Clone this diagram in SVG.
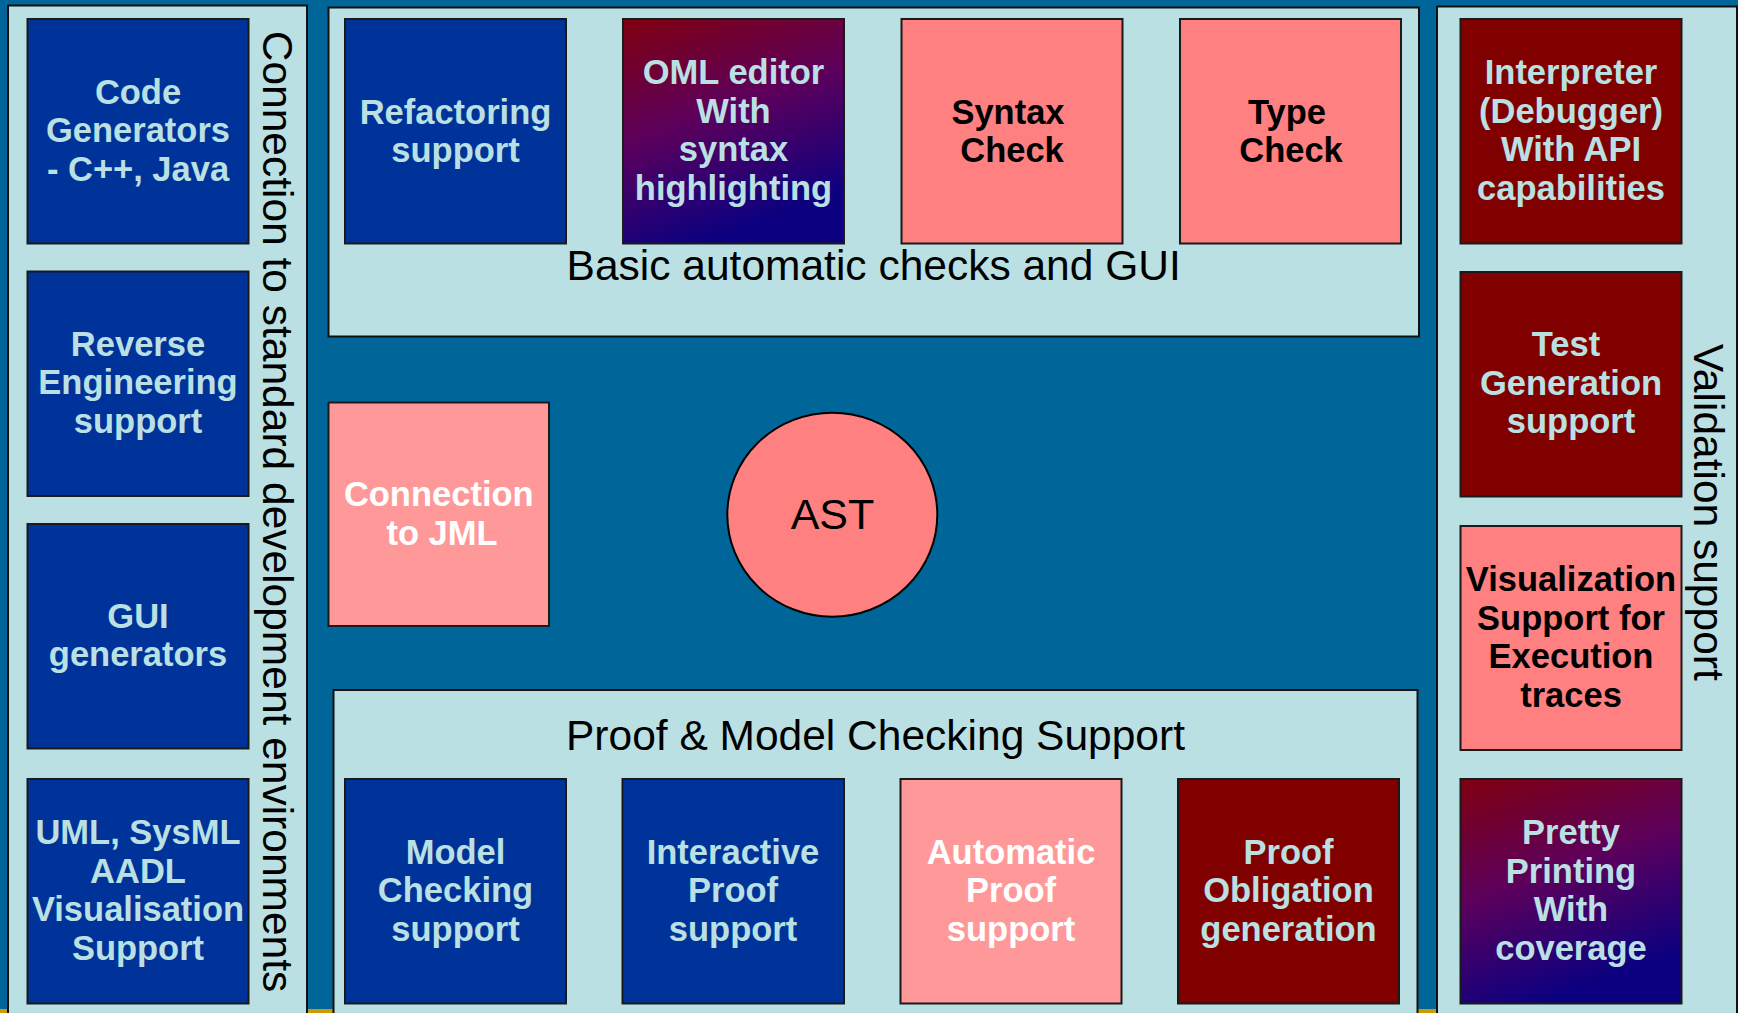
<svg xmlns="http://www.w3.org/2000/svg" width="1738" height="1013" viewBox="0 0 1738 1013">
  <defs>
    <linearGradient id="redToBlue" x1="0" y1="0" x2="0.35" y2="1">
      <stop offset="0" stop-color="#800010"/>
      <stop offset="0.5" stop-color="#5c005c"/>
      <stop offset="1" stop-color="#0c0080"/>
    </linearGradient>
    <style>
      .bg { fill: #006699; }
      .strip { fill: #cc9900; }
      .panel { fill: #bbe0e3; stroke: #111; stroke-width: 2; }
      .box { stroke: #1a1a1a; stroke-width: 2; }
      .blue { fill: #003399; }
      .maroon { fill: #800000; }
      .pink { fill: #ff8080; }
      .rose { fill: #ff9999; }
      .grad { fill: url(#redToBlue); }
      .lbl { font-family: "Liberation Sans", Arial, sans-serif; font-weight: bold; font-size: 34.5px; text-anchor: middle; }
      .lt { fill: #bbe0e3; }
      .wt { fill: #ffffff; }
      .bk { fill: #000000; }
      .title { font-family: "Liberation Sans", Arial, sans-serif; font-size: 42.5px; fill: #000; text-anchor: middle; }
    </style>
  </defs>

  <!-- backdrop -->
  <rect class="bg" x="0" y="0" width="1738" height="1013"/>
  <rect class="strip" x="0" y="1009" width="1738" height="4"/>

  <!-- container panels -->
  <g id="panel-dev-env">
    <rect class="panel" x="8" y="5.5" width="299" height="1030"/>
    <text class="title" transform="translate(262.5 511.5) rotate(90)">Connection to standard development environments</text>
  </g>
  <g id="panel-basic-checks">
    <rect class="panel" x="328.5" y="7.5" width="1090.5" height="329"/>
    <text class="title" x="873.7" y="280">Basic automatic checks and GUI</text>
  </g>
  <g id="panel-proof">
    <rect class="panel" x="333.5" y="690" width="1084" height="345"/>
    <text class="title" x="875.5" y="750">Proof &amp; Model Checking Support</text>
  </g>
  <g id="panel-validation">
    <rect class="panel" x="1437" y="6.5" width="300" height="1030"/>
    <text class="title" transform="translate(1693.5 512.2) rotate(90)">Validation support</text>
  </g>

  <!-- left column -->
  <g id="code-generators">
    <rect class="box blue" x="27.5" y="19" width="221" height="224.5"/>
    <text class="lbl lt" x="138" y="103.75">Code</text>
    <text class="lbl lt" x="138" y="142.25">Generators</text>
    <text class="lbl lt" x="138" y="180.75">- C++, Java</text>
  </g>
  <g id="reverse-engineering">
    <rect class="box blue" x="27.5" y="271.5" width="221" height="224.5"/>
    <text class="lbl lt" x="138" y="355.5">Reverse</text>
    <text class="lbl lt" x="138" y="394">Engineering</text>
    <text class="lbl lt" x="138" y="432.5">support</text>
  </g>
  <g id="gui-generators">
    <rect class="box blue" x="27.5" y="524" width="221" height="224.5"/>
    <text class="lbl lt" x="138" y="627.5">GUI</text>
    <text class="lbl lt" x="138" y="666">generators</text>
  </g>
  <g id="uml-visualisation">
    <rect class="box blue" x="27.5" y="779" width="221" height="224.5"/>
    <text class="lbl lt" x="138" y="844">UML, SysML</text>
    <text class="lbl lt" x="138" y="882.5">AADL</text>
    <text class="lbl lt" x="138" y="921">Visualisation</text>
    <text class="lbl lt" x="138" y="959.5">Support</text>
  </g>

  <!-- top row -->
  <g id="refactoring">
    <rect class="box blue" x="345" y="19" width="221" height="224.5"/>
    <text class="lbl lt" x="455.5" y="123.5">Refactoring</text>
    <text class="lbl lt" x="455.5" y="162">support</text>
  </g>
  <g id="oml-editor">
    <rect class="box grad" x="623" y="19" width="221" height="224.5"/>
    <text class="lbl lt" x="733.5" y="84">OML editor</text>
    <text class="lbl lt" x="733.5" y="122.5">With</text>
    <text class="lbl lt" x="733.5" y="161">syntax</text>
    <text class="lbl lt" x="733.5" y="199.5">highlighting</text>
  </g>
  <g id="syntax-check">
    <rect class="box pink" x="901.5" y="19" width="221" height="224.5"/>
    <text class="lbl bk" x="1008" y="123.5">Syntax</text>
    <text class="lbl bk" x="1012" y="162">Check</text>
  </g>
  <g id="type-check">
    <rect class="box pink" x="1180" y="19" width="221" height="224.5"/>
    <text class="lbl bk" x="1287" y="123.5">Type</text>
    <text class="lbl bk" x="1291" y="162">Check</text>
  </g>

  <!-- centre -->
  <g id="connection-jml">
    <rect class="box rose" x="328.5" y="402.5" width="220.5" height="223.5"/>
    <text class="lbl wt" x="438.75" y="506">Connection</text>
    <text class="lbl wt" x="442" y="544.5">to JML</text>
  </g>
  <g id="ast">
    <ellipse cx="832.3" cy="514.7" rx="105" ry="102" fill="#ff8080" stroke="#000" stroke-width="2"/>
    <text x="832.5" y="529.3" font-family="'Liberation Sans', Arial, sans-serif" font-size="43" fill="#000" text-anchor="middle">AST</text>
  </g>

  <!-- bottom row -->
  <g id="model-checking">
    <rect class="box blue" x="345" y="779" width="221" height="224.5"/>
    <text class="lbl lt" x="455.5" y="863.75">Model</text>
    <text class="lbl lt" x="455.5" y="902.25">Checking</text>
    <text class="lbl lt" x="455.5" y="940.75">support</text>
  </g>
  <g id="interactive-proof">
    <rect class="box blue" x="622.5" y="779" width="221.5" height="224.5"/>
    <text class="lbl lt" x="733" y="863.75">Interactive</text>
    <text class="lbl lt" x="733" y="902.25">Proof</text>
    <text class="lbl lt" x="733" y="940.75">support</text>
  </g>
  <g id="automatic-proof">
    <rect class="box rose" x="900.5" y="779" width="221" height="224.5"/>
    <text class="lbl wt" x="1011" y="863.75">Automatic</text>
    <text class="lbl wt" x="1011" y="902.25">Proof</text>
    <text class="lbl wt" x="1011" y="940.75">support</text>
  </g>
  <g id="proof-obligation">
    <rect class="box maroon" x="1178" y="779" width="221" height="224.5"/>
    <text class="lbl lt" x="1288.5" y="863.75">Proof</text>
    <text class="lbl lt" x="1288.5" y="902.25">Obligation</text>
    <text class="lbl lt" x="1288.5" y="940.75">generation</text>
  </g>

  <!-- right column -->
  <g id="interpreter">
    <rect class="box maroon" x="1460.5" y="19" width="221" height="224.5"/>
    <text class="lbl lt" x="1571" y="84">Interpreter</text>
    <text class="lbl lt" x="1571" y="122.5">(Debugger)</text>
    <text class="lbl lt" x="1571" y="161">With API</text>
    <text class="lbl lt" x="1571" y="199.5">capabilities</text>
  </g>
  <g id="test-generation">
    <rect class="box maroon" x="1460.5" y="272" width="221" height="224.5"/>
    <text class="lbl lt" x="1566" y="356">Test</text>
    <text class="lbl lt" x="1571" y="394.5">Generation</text>
    <text class="lbl lt" x="1571" y="433">support</text>
  </g>
  <g id="visualization-traces">
    <rect class="box pink" x="1460.5" y="526" width="221" height="224"/>
    <text class="lbl bk" x="1571" y="591.25">Visualization</text>
    <text class="lbl bk" x="1571" y="629.75">Support for</text>
    <text class="lbl bk" x="1571" y="668.25">Execution</text>
    <text class="lbl bk" x="1571" y="706.75">traces</text>
  </g>
  <g id="pretty-printing">
    <rect class="box grad" x="1460.5" y="779" width="221" height="224.5"/>
    <text class="lbl lt" x="1571" y="844">Pretty</text>
    <text class="lbl lt" x="1571" y="882.5">Printing</text>
    <text class="lbl lt" x="1571" y="921">With</text>
    <text class="lbl lt" x="1571" y="959.5">coverage</text>
  </g>

  <!-- the layout has no connecting lines -->
  <g id="connectors"/>
</svg>
